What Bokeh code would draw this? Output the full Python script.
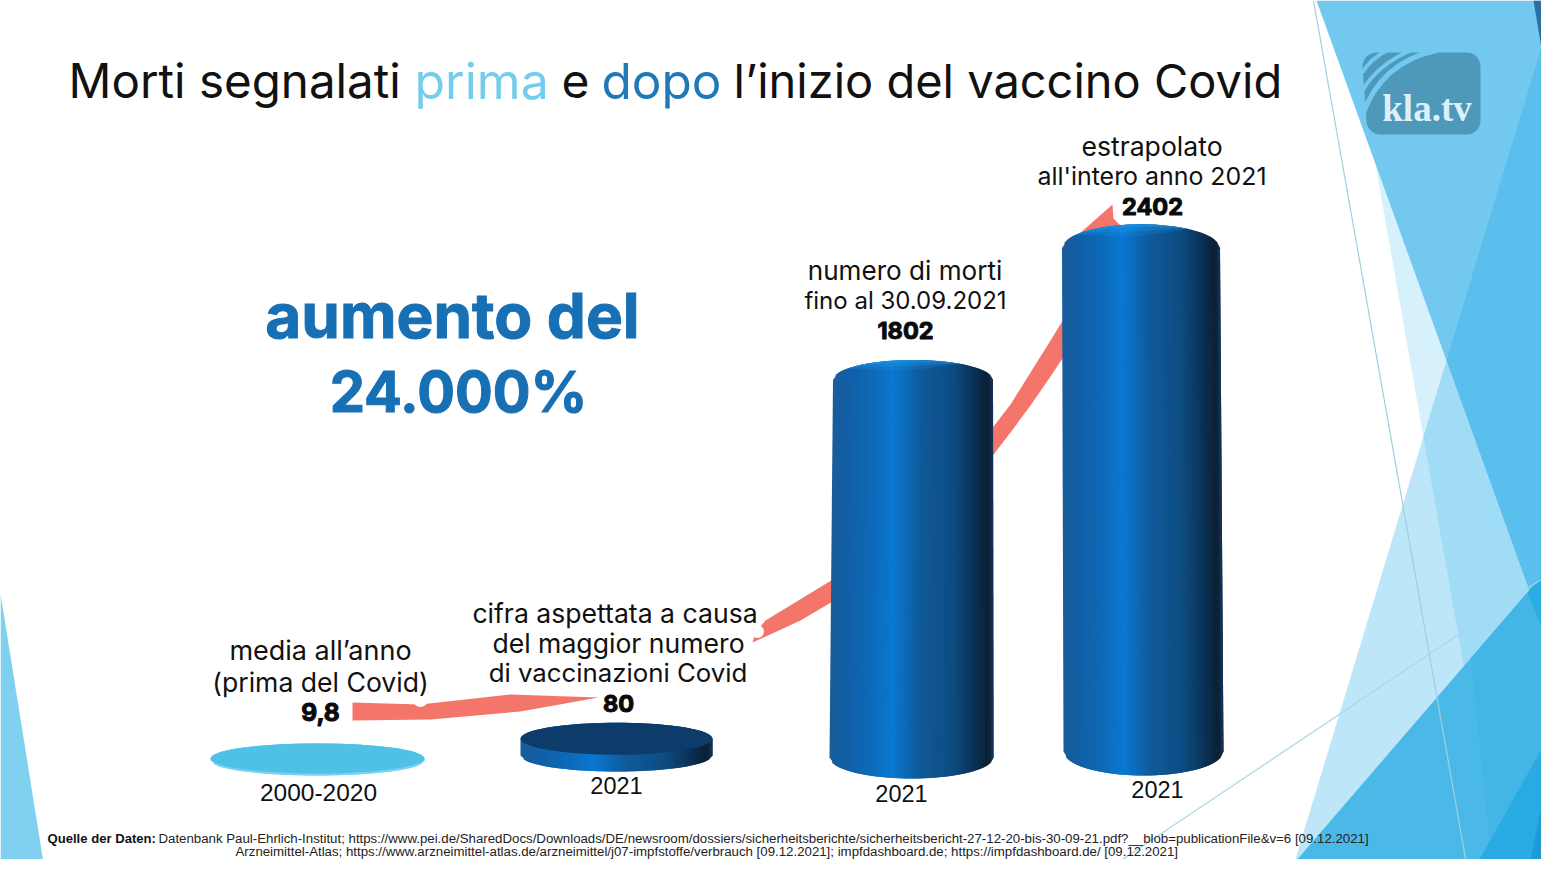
import numpy as np
from bokeh.plotting import figure
from bokeh.models import Range1d
from bokeh.core.properties import value
from bokeh.embed import file_html
from bokeh.resources import INLINE

# ---------- data ----------
categories = ["2000-2020", "2021", "2021", "2021"]
values = [9.8, 80, 1802, 2402]
value_labels = ["9,8", "80", "1802", "2402"]

title_parts = ["Morti segnalati", "prima", "e", "dopo", "l\u2019inizio del vaccino Covid"]
title_colors = ["#111111", "#74cdec", "#111111", "#1f78b8", "#111111"]
title_x = [68, 414, 561, 601, 733]
title_sizes = [47.5, 50, 48, 49.5, 47]

note_1 = ["media all\u2019anno", "(prima del Covid)"]
note_2 = ["cifra aspettata a causa", "del maggior numero", "di vaccinazioni Covid"]
note_3 = ["numero di morti", "fino al 30.09.2021"]
note_4 = ["estrapolato", "all'intero anno 2021"]
headline = ["aumento del", "24.000%"]
source_bold = "Quelle der Daten:"
source_1 = ("Datenbank Paul-Ehrlich-Institut; https://www.pei.de/SharedDocs/Downloads/DE/newsroom/dossiers/"
            "sicherheitsberichte/sicherheitsbericht-27-12-20-bis-30-09-21.pdf?__blob=publicationFile&v=6 [09.12.2021]")
source_2 = ("Arzneimittel-Atlas; https://www.arzneimittel-atlas.de/arzneimittel/j07-impfstoffe/verbrauch "
            "[09.12.2021]; impfdashboard.de; https://impfdashboard.de/ [09.12.2021]")

# ---------- layout (reference pixels) ----------
W, H = 1541, 859
PX_PER_UNIT = 0.2095
ZERO_PX = 755
top_cx = [317, 616, 912.5, 1140.5]
bot_cx = [317, 616, 911, 1143]
top_hw = [107, 96, 80, 79]
bot_hw = [107, 96, 82, 80]
top_sh = [15, 16, 20, 24]
bot_sh = [15, 16, 21, 24]
base_px = [760, 755, 757, 751]
cat_x = [318, 616, 901, 1157]
cat_y = [792, 785, 793, 789]
cat_sizes = [24.5, 23.5, 23.5, 23.5]
val_x = [320, 618, 905, 1152]
val_y = [711, 703, 330, 206]
val_sizes = [24.5, 23.5, 23.5, 23.5]

p = figure(width=W, height=H, output_backend="svg", toolbar_location=None,
           x_range=Range1d(0, W),
           y_range=Range1d((ZERO_PX - H) / PX_PER_UNIT, ZERO_PX / PX_PER_UNIT),
           min_border=0, outline_line_color=None, background_fill_color="#ffffff")
p.extra_y_ranges = {"px": Range1d(H, 0)}
p.axis.visible = False
p.grid.visible = False


def poly(pts, color, alpha=1.0):
    xs, ys = zip(*pts)
    p.patch(list(xs), list(ys), fill_color=color, fill_alpha=alpha, line_color=None, y_range_name="px")


def seg(x0, y0, x1, y1, color, w=1.2):
    p.line([x0, x1], [y0, y1], line_color=color, line_width=w, y_range_name="px")


def label(x, y, s, color="#111111", size=24, font="Inter", style="normal", align="center", outline=None):
    p.text([x], [y], text=[s], text_color=color, text_font=value(font), text_font_size=f"{size}px",
           text_font_style=style, text_align=align, text_baseline="middle", text_outline_color=outline,
           y_range_name="px")


# ---------- background shards ----------
poly([(0, 593), (45, 875), (0, 875)], "#80d0f0")
poly([(1375, 164), (1500, 875), (1557, 875), (1557, 668)], "#d6f1fb")
poly([(1316, 0), (1557, 668), (1557, 0)], "#73c8ef")
poly([(1555, 0), (1290, 875), (1557, 875), (1557, 0)], "#23ace8", 0.30)
poly([(1533, 0), (1557, 0), (1557, 143)], "#2a6ea3")
poly([(1557, 557), (1283, 875), (1557, 875)], "#4bb9e8")
poly([(1470, 658), (1527, 592), (1557, 668), (1557, 720), (1470, 875), (1493, 875)], "#43b6e6")
poly([(1527, 592), (1557, 557), (1557, 668)], "#2aade3")
poly([(1557, 720), (1470, 875), (1557, 875)], "#28abe3")
poly([(1557, 725), (1527, 875), (1557, 875)], "#1e9ad6")
seg(1313, 0, 1468, 875, "#9fd0e0")
seg(1098, 875, 1557, 568, "#a8d8e8")

# ---------- logo ----------
lx0, lx1, ly0, ly1, r = 1362, 1480, 52, 134, 14
corners = [(lx1 - r, ly0 + r, -90, 0), (lx1 - r, ly1 - r, 0, 90), (lx0 + r + 4, ly1 - r, 90, 180), (lx0 + r, ly0 + r, 180, 270)]
logo = []
for cx, cy, a0, a1 in corners:
    for a in np.radians(np.linspace(a0, a1, 10)):
        logo.append((cx + r * np.cos(a), cy + r * np.sin(a)))
poly(logo, "#4e98ba")
for (x0, y0, cx, cy, x1, y1, w) in [(1362, 115, 1380, 62, 1436, 50, 5), (1362, 90, 1377, 64, 1412, 49, 4),
                                    (1362, 72, 1369, 59, 1388, 49, 4)]:
    p.quadratic(x0=[x0], y0=[y0], x1=[x1], y1=[y1], cx=[cx], cy=[cy], line_color="#73c8ef", line_width=w,
                y_range_name="px")
label(1426.5, 108, "kla.tv", "#dcf0fa", 37, "Liberation Serif", "bold")

# ---------- growth arrow (drawn below the cylinders) ----------
arrow = "#f4766a"
poly([(352, 702), (420, 704), (510, 694), (598, 697), (520, 711), (430, 719), (352, 720)], arrow)
poly([(765, 620), (834, 578), (834, 600), (800, 620), (752, 642), (755, 632)], arrow)
poly([(990, 430), (1010, 404), (1030, 372), (1050, 340), (1066, 314), (1066, 352), (1050, 376), (1030, 405),
      (1010, 432), (990, 458)], arrow)
poly([(1070, 241), (1112, 204), (1113, 218), (1119, 224), (1135, 228), (1135, 250)], arrow)
p.scatter([420], [699], size=15, fill_color="#ffffff", line_color=None, y_range_name="px")
p.scatter([757], [631], size=13, fill_color="#ffffff", line_color=None, y_range_name="px")

# ---------- cylinders drawn from the values ----------
stops = [0, .10, .25, .38, .55, .75, .90, .97, 1]
blue_rgb = np.array([(0x1a, 0x5c, 0x9a), (0x12, 0x60, 0xa6), (0x0e, 0x6a, 0xb8), (0x0a, 0x78, 0xd2),
                     (0x10, 0x5a, 0x9a), (0x0e, 0x4d, 0x82), (0x0a, 0x2e, 0x50), (0x0d, 0x1f, 0x30), (0x12, 0x38, 0x5e)])
pale_rgb = np.array([(0x7a, 0xd2, 0xf0)] * 9)
py2val = lambda py: (ZERO_PX - py) / PX_PER_UNIT
N = 60

for i, v in enumerate(values):
    rgb = pale_rgb if i == 0 else blue_rgb
    base = py2val(base_px[i])
    top = base + v
    sh_t, sh_b = top_sh[i] / PX_PER_UNIT, bot_sh[i] / PX_PER_UNIT
    e = np.linspace(-1, 1, N + 1)
    xs, ys, colors = [], [], []
    for k in range(N):
        u0, u1 = e[k], e[k + 1]
        a0 = np.sqrt(1 - u0 ** 2)
        # each strip runs one strip further right; the next one paints over the overlap
        u2 = e[min(k + 2, N)]
        a2 = np.sqrt(1 - u2 ** 2)
        xs.append([top_cx[i] + top_hw[i] * u0, top_cx[i] + top_hw[i] * u2, bot_cx[i] + bot_hw[i] * u2, bot_cx[i] + bot_hw[i] * u0])
        ys.append([top + sh_t * a0, top + sh_t * a2, base - sh_b * a2, base - sh_b * a0])
        t = (u0 + u1) / 4 + .5
        c = [int(np.interp(t, stops, rgb[:, ch])) for ch in range(3)]
        colors.append("#%02x%02x%02x" % tuple(c))
    p.patches(xs, ys, fill_color=colors, line_color=None)
    if i == 0:
        p.ellipse([top_cx[i]], [top], width=[2 * top_hw[i]], height=[2 * sh_t], fill_color="#4fc0e6", line_color=None)
    elif i == 1:
        p.ellipse([top_cx[i]], [top], width=[2 * top_hw[i]], height=[2 * sh_t], fill_color="#0d3c6a", line_color=None)
    else:
        uu = np.linspace(-0.85, 0.6, 50)
        arc = np.sqrt(np.clip(1 - uu ** 2, 0, 1))
        taper = np.sin(np.pi * (uu - uu[0]) / (uu[-1] - uu[0]))
        upper = top + sh_t * arc
        for depth, al in [(0.5, .2), (0.3, .28), (0.12, .45)]:
            lower = upper - depth * sh_t * taper
            p.patch(list(top_cx[i] + top_hw[i] * uu) + list(top_cx[i] + top_hw[i] * uu[::-1]),
                    list(upper) + list(lower[::-1]), fill_color="#1c98f0", fill_alpha=al, line_color=None)

# ---------- texts ----------
for s, c, x, z in zip(title_parts, title_colors, title_x, title_sizes):
    label(x, 80, s, c, z, "Inter", "normal", "left")

label(452, 315, headline[0], "#176fb4", 62, "Inter", "bold", outline="#176fb4")
label(458, 391, headline[1], "#176fb4", 56, "Inter", "bold", outline="#176fb4")

for lines, ys, xs_c, zs in [
    (note_1, [650, 681], [320, 320], [27, 26.6]),
    (note_2, [612, 642, 672], [614.5, 618, 617.5], [26.6, 26.6, 25.8]),
    (note_3, [270, 300], [904.5, 905], [26.1, 24]),
    (note_4, [145, 175], [1151.5, 1151.5], [26.6, 24.9]),
]:
    for s, y, x, z in zip(lines, ys, xs_c, zs):
        label(x, y, s, size=z)

for s, x, y, z in zip(value_labels, val_x, val_y, val_sizes):
    label(x, y, s, "#0a0a0a", z, "Inter", "bold", outline="#0a0a0a")
for s, x, y, z in zip(categories, cat_x, cat_y, cat_sizes):
    label(x, y, s, "#111111", z, "Liberation Sans")

label(47, 838, source_bold, "#111111", 13.1, "Liberation Sans", "bold", "left")
label(158, 838, source_1, "#222222", 13.25, "Liberation Sans", "normal", "left")
label(235, 851, source_2, "#222222", 13.25, "Liberation Sans", "normal", "left")

open("out.html", "w").write(file_html(p, INLINE))
